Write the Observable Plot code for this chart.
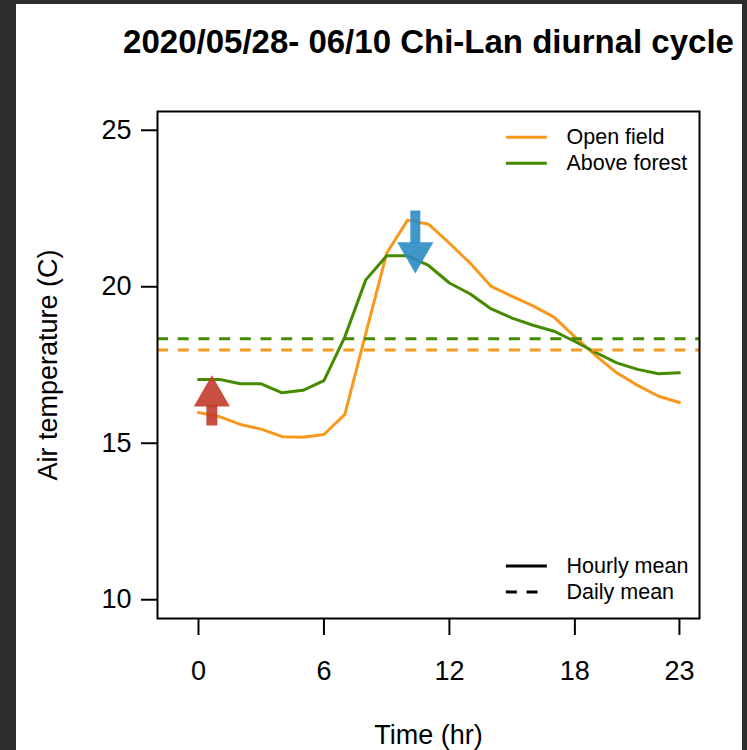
<!DOCTYPE html>
<html>
<head>
<meta charset="utf-8">
<script src="https://cdn.jsdelivr.net/npm/d3@7"></script>
<script src="https://cdn.jsdelivr.net/npm/@observablehq/plot@0.6"></script>
<style>
  html, body { margin: 0; padding: 0; background: #2d2d2d; }
  #wrap { position: absolute; left: 16px; top: 4px; width: 726px; height: 746px; background: #ffffff; }
  svg { display: block; }
</style>
</head>
<body>
<div id="wrap"></div>
<script>
// ---- data ----
const hours = [0,1,2,3,4,5,6,7,8,9,10,11,12,13,14,15,16,17,18,19,20,21,22,23];
const openField = [15.98,15.85,15.60,15.45,15.21,15.19,15.28,15.92,18.50,21.07,22.13,22.00,21.39,20.75,20.01,19.69,19.39,19.03,18.40,17.80,17.25,16.85,16.50,16.30];
const aboveForest = [17.04,17.04,16.90,16.90,16.61,16.69,17.00,18.40,20.22,20.99,20.99,20.68,20.12,19.77,19.29,19.00,18.77,18.58,18.25,17.90,17.57,17.36,17.22,17.25];
const seriesNames = ["Open field", "Above forest"];
const seriesColors = ["#F8981D", "#458B00"];
const dailyMeans = [17.98, 18.34];
const xTicks = [0, 6, 12, 18, 23];
const yTicks = [10, 15, 20, 25];
const lineKeyNames = ["Hourly mean", "Daily mean"];
// annotation arrows: [hour, tail temperature, head base temperature, head centroid temperature]
const warmArrow = [0.64, 15.55, 16.21, 16.51];
const coolArrow = [10.37, 22.42, 21.37, 21.09];

// ---- table for Plot ----
const rows = [];
hours.forEach((h, i) => {
  rows.push({hour: h, temp: openField[i], series: seriesNames[0]});
  rows.push({hour: h, temp: aboveForest[i], series: seriesNames[1]});
});
const means = seriesNames.map((s, i) => ({series: s, temp: dailyMeans[i]}));
const colorOf = Object.fromEntries(seriesNames.map((s, i) => [s, seriesColors[i]]));

const font = "'Liberation Sans', Arial, Helvetica, sans-serif";
const dash = "11,9.7";

// legend positions (user coordinates, like R's legend)
const legTop = [{y: 24.78, label: seriesNames[0], color: seriesColors[0], dash: null},
                {y: 23.95, label: seriesNames[1], color: seriesColors[1], dash: null}];
const legBottom = [{y: 11.08, label: lineKeyNames[0], color: "black", dash: null},
                   {y: 10.25, label: lineKeyNames[1], color: "black", dash: dash}];
const legAll = legTop.concat(legBottom);

const chart = Plot.plot({
  width: 726,
  height: 746,
  marginLeft: 141,
  marginRight: 43,
  marginTop: 107,
  marginBottom: 132,
  style: {fontFamily: font, background: "white", color: "black", overflow: "visible"},
  x: {domain: [-1.96, 23.96]},
  y: {domain: [9.4, 25.6]},
  marks: [
    Plot.axisX({ticks: xTicks, tickSize: 17, tickPadding: 25, fontSize: 27, strokeWidth: 2, label: null}),
    Plot.axisY({ticks: yTicks, tickSize: 16, tickPadding: 10, fontSize: 27, strokeWidth: 2, label: null}),
    Plot.line(rows, {x: "hour", y: "temp", z: "series", stroke: d => colorOf[d.series], strokeWidth: 3}),
    Plot.ruleY(means, {y: "temp", stroke: d => colorOf[d.series], strokeWidth: 3, strokeDasharray: dash}),
    // legend samples
    Plot.link(legAll.filter(d => !d.dash), {x1: 14.7, x2: 16.66, y1: "y", y2: "y", stroke: "color", strokeWidth: 3}),
    Plot.link(legAll.filter(d => d.dash), {x1: 14.7, x2: 16.66, y1: "y", y2: "y", stroke: "color", strokeWidth: 3, strokeDasharray: "11,9.7"}),
    Plot.text(legAll, {x: 17.6, y: "y", text: "label", textAnchor: "start", fontSize: 21.5, fill: "black"}),
    // arrows
    Plot.ruleX([warmArrow], {x: d => d[0], y1: d => d[1], y2: d => d[2], stroke: "#c23b2a", strokeOpacity: 0.9, strokeWidth: 11}),
    Plot.dot([warmArrow], {x: d => d[0], y: d => d[3], symbol: "triangle", r: 13.4, fill: "#c23b2a", fillOpacity: 0.9, stroke: "none"}),
    Plot.ruleX([coolArrow], {x: d => d[0], y1: d => d[1], y2: d => d[2], stroke: "#2b8cc4", strokeOpacity: 0.9, strokeWidth: 10}),
    Plot.dot([coolArrow], {x: d => d[0], y: d => d[3], symbol: "triangle", rotate: 180, r: 13.4, fill: "#2b8cc4", fillOpacity: 0.9, stroke: "none"}),
    Plot.frame({stroke: "black", strokeWidth: 2}),
    // titles
    Plot.text(["2020/05/28- 06/10 Chi-Lan diurnal cycle"], {frameAnchor: "top", dy: -69, textAnchor: "middle", lineAnchor: "middle", fontSize: 33, fontWeight: "bold", fill: "black"}),
    Plot.text(["Time (hr)"], {frameAnchor: "bottom", dy: 117, textAnchor: "middle", lineAnchor: "middle", fontSize: 27, fill: "black"}),
    Plot.text(["Air temperature (C)"], {frameAnchor: "left", dx: -109, rotate: -90, textAnchor: "middle", lineAnchor: "middle", fontSize: 27, fill: "black"})
  ]
});
document.getElementById("wrap").appendChild(chart);
</script>
</body>
</html>
